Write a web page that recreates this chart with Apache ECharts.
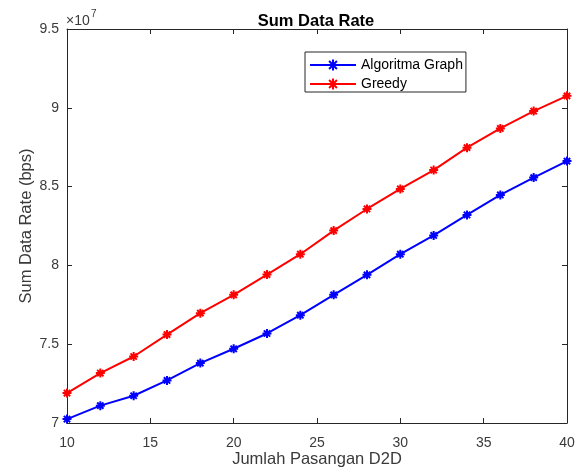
<!DOCTYPE html>
<html>
<head>
<meta charset="utf-8">
<script src="https://cdn.jsdelivr.net/npm/echarts@6/dist/echarts.min.js"></script>
<style>html,body{margin:0;padding:0;background:#fff}#c{width:579px;height:473px}</style>
</head>
<body>
<div id="c"></div>
<script>
var pasangan = [10, 12, 14, 16, 18, 20, 22, 24, 26, 28, 30, 32, 34, 36, 38, 40];
var algoritmaGraph = [7.025e7, 7.11e7, 7.173e7, 7.27e7, 7.38e7, 7.471e7, 7.568e7, 7.684e7, 7.813e7, 7.94e7, 8.071e7, 8.19e7, 8.32e7, 8.447e7, 8.557e7, 8.662e7];
var greedy = [7.19e7, 7.317e7, 7.422e7, 7.561e7, 7.697e7, 7.813e7, 7.942e7, 8.071e7, 8.221e7, 8.358e7, 8.485e7, 8.605e7, 8.747e7, 8.869e7, 8.979e7, 9.076e7];
var xTicks = [10, 15, 20, 25, 30, 35, 40];
var yTicks = [7, 7.5, 8, 8.5, 9, 9.5];

var FONT = '"Liberation Sans", Arial, sans-serif';
var AX = '#262626';
var TXT = '#3a3a3a';
var star = 'path://M5,0L5,10M0,5L10,5M1.5,1.5L8.5,8.5M8.5,1.5L1.5,8.5';

function pairs(xs, ys) { return xs.map(function (x, i) { return [x, ys[i]]; }); }

var chart = echarts.init(document.getElementById('c'), null, {renderer: 'canvas'});
var grid = {left: 67, right: 12, top: 29, bottom: 50, containLabel: false, outerBoundsMode: 'none'};
function xAx(pos, show) {
  return {
    type: 'value', position: pos, min: 10, max: 40, interval: 5,
    axisLine: {show: true, onZero: false, lineStyle: {color: AX, width: 1}},
    axisTick: {show: true, inside: true, length: 5, lineStyle: {color: AX}},
    axisLabel: {show: show, color: TXT, fontFamily: FONT, fontSize: 14, margin: 13},
    splitLine: {show: false},
    name: show ? 'Jumlah Pasangan D2D' : '', nameLocation: 'middle', nameGap: 28,
    nameMoveOverlap: false,
    nameTextStyle: {color: TXT, fontFamily: FONT, fontSize: 16.5}
  };
}
function yAx(pos, show) {
  return {
    type: 'value', position: pos, min: 7e7, max: 9.5e7, interval: 5e6,
    axisLine: {show: true, onZero: false, lineStyle: {color: AX, width: 1}},
    axisTick: {show: true, inside: true, length: 5, lineStyle: {color: AX}},
    axisLabel: {show: show, color: TXT, fontFamily: FONT, fontSize: 14, margin: 8,
      formatter: function (v) { return String(Math.round(v / 1e6) / 10); }},
    splitLine: {show: false},
    name: show ? 'Sum Data Rate (bps)' : '', nameLocation: 'middle', nameGap: 32,
    nameMoveOverlap: false,
    nameTextStyle: {color: TXT, fontFamily: FONT, fontSize: 16.5}
  };
}
function ser(name, data, color) {
  return {
    name: name, type: 'line', data: pairs(pasangan, data), xAxisIndex: 0, yAxisIndex: 0,
    symbol: star, symbolSize: 9, showSymbol: true,
    lineStyle: {color: color, width: 2},
    itemStyle: {color: color, borderColor: color, borderWidth: 2},
    emphasis: {disabled: true}, animation: false
  };
}
chart.setOption({
  animation: false,
  backgroundColor: '#fff',
  title: {text: 'Sum Data Rate', left: 311, top: 8, textAlign: 'center',
    textStyle: {fontFamily: FONT, fontSize: 16.5, fontWeight: 'bold', color: '#000'}},
  grid: grid,
  xAxis: [xAx('bottom', true), xAx('top', false)],
  yAxis: [yAx('left', true), yAx('right', false)],
  legend: {
    orient: 'vertical', left: 305, top: 52, padding: [6, 3, 1, 4], itemGap: 5,
    itemWidth: 46, itemHeight: 14,
    borderColor: AX, borderWidth: 1, backgroundColor: '#fff',
    textStyle: {fontFamily: FONT, fontSize: 14, color: '#000'},
    data: ['Algoritma Graph', 'Greedy']
  },
  graphic: [{
    type: 'text', x: 66, y: 14,
    style: {text: '×10', fontFamily: FONT, fontSize: 14, fill: TXT}
  }, {
    type: 'text', x: 91, y: 9,
    style: {text: '7', fontFamily: FONT, fontSize: 10, fill: TXT}
  }],
  series: [ser('Algoritma Graph', algoritmaGraph, '#0000ff'), ser('Greedy', greedy, '#ff0000')]
});
</script>
</body>
</html>
